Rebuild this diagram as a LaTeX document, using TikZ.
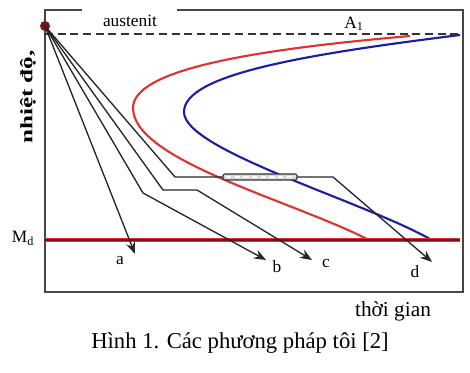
\documentclass[tikz,border=0pt]{standalone}
\usepackage{fontspec}
\setmainfont{Liberation Serif}
\usetikzlibrary{arrows.meta}

\definecolor{ttred}{RGB}{225,50,50}
\definecolor{ttblue}{RGB}{30,30,165}
\definecolor{msred}{RGB}{120,20,25}
\definecolor{framegray}{RGB}{70,70,70}

\tikzset{
  frame/.style={draw=framegray, line width=1.2pt},
  cool path/.style={draw=black!85, line width=1pt, -{Stealth[length=9pt,width=7pt]}},
  ttt curve/.style={line width=1.6pt},
  lbl/.style={inner sep=0.75pt, font=\fontsize{13}{15}\selectfont},
}

\begin{document}
\begin{tikzpicture}[x=0.75pt,y=0.75pt,yscale=-1,xscale=1]
    \useasboundingbox (0,0) rectangle (470,373);

    %Frame (open at the top round the label)
    \draw [frame] (82,10) -- (45,10) -- (45,292) -- (463,292) -- (463,10) -- (177,10);
    %Dashed line A1
    \draw [draw=black!80, line width=1pt, dash pattern=on 6pt off 3.5pt] (45,34) -- (463,34);

    %C-curve red
    \draw [ttt curve, color=ttred] (410,36) .. controls (250,50) and (133,70) .. (133,108) .. controls (133,160) and (290,200) .. (367,239);
    %C-curve blue
    \draw [ttt curve, color=ttblue] (460,35) .. controls (300,55) and (184,75) .. (184,112) .. controls (184,150) and (360,200) .. (430,239);

    %Ms line
    \draw [draw=ttred, line width=3pt] (45,240) -- (460,240);
    \draw [draw=msred, line width=2pt] (45,240) -- (460,240);

    %Start point
    \node (start) [circle, fill=msred, inner sep=0pt, minimum size=7.5pt] at (45,26) {};

    %Corners and ends of the cooling paths
    \coordinate (aEnd) at (135,254);
    \coordinate (b1) at (143,193);
    \coordinate (bEnd) at (266,260);
    \coordinate (c1) at (163,190);
    \coordinate (c2) at (197,190);
    \coordinate (cEnd) at (312,260);
    \coordinate (d1) at (175,177);
    \coordinate (d2) at (333,177);
    \coordinate (dEnd) at (432,262);

    %Cooling paths
    \draw [cool path] (start.center) -- (aEnd);
    \draw [cool path] (start.center) -- (b1) -- (bEnd);
    \draw [cool path] (start.center) -- (c1) -- (c2) -- (cEnd);
    \draw [cool path] (start.center) -- (d1) -- (d2) -- (dEnd);

    %Isothermal hold on path d
    \draw [draw=black!80, line width=0.8pt, fill=white!85!black, rounded corners=1pt] (223,174) rectangle (297,180);
    \draw [draw=white, line width=1pt, dash pattern=on 4pt off 2.5pt] (226,177) -- (295,177);

    % Text Node
    \node (austenit) [lbl] at (130,21) {austenit};
    \node (A1) [lbl] at (354,24) {A\textsubscript{1}};
    \node (Md) [lbl] at (23,238) {M\textsubscript{d}};
    \node (ylabel) [inner sep=0.75pt, rotate=90, xscale=1.45, font=\bfseries\fontsize{13}{15}\selectfont] at (28,97) {nhiệt độ,};
    \node (la) [lbl] at (120,261) {a};
    \node (lb) [lbl] at (277,267) {b};
    \node (lc) [lbl] at (326,264) {c};
    \node (ld) [lbl] at (415,272) {d};
    \node (xlabel) [inner sep=0.75pt, font=\fontsize{16}{18}\selectfont] at (393,311) {thời gian};
    \node (caption) [inner sep=0.75pt, font=\fontsize{17}{20}\selectfont] at (240,343) {Hình 1. Các phương pháp tôi [2]};
\end{tikzpicture}
\end{document}
